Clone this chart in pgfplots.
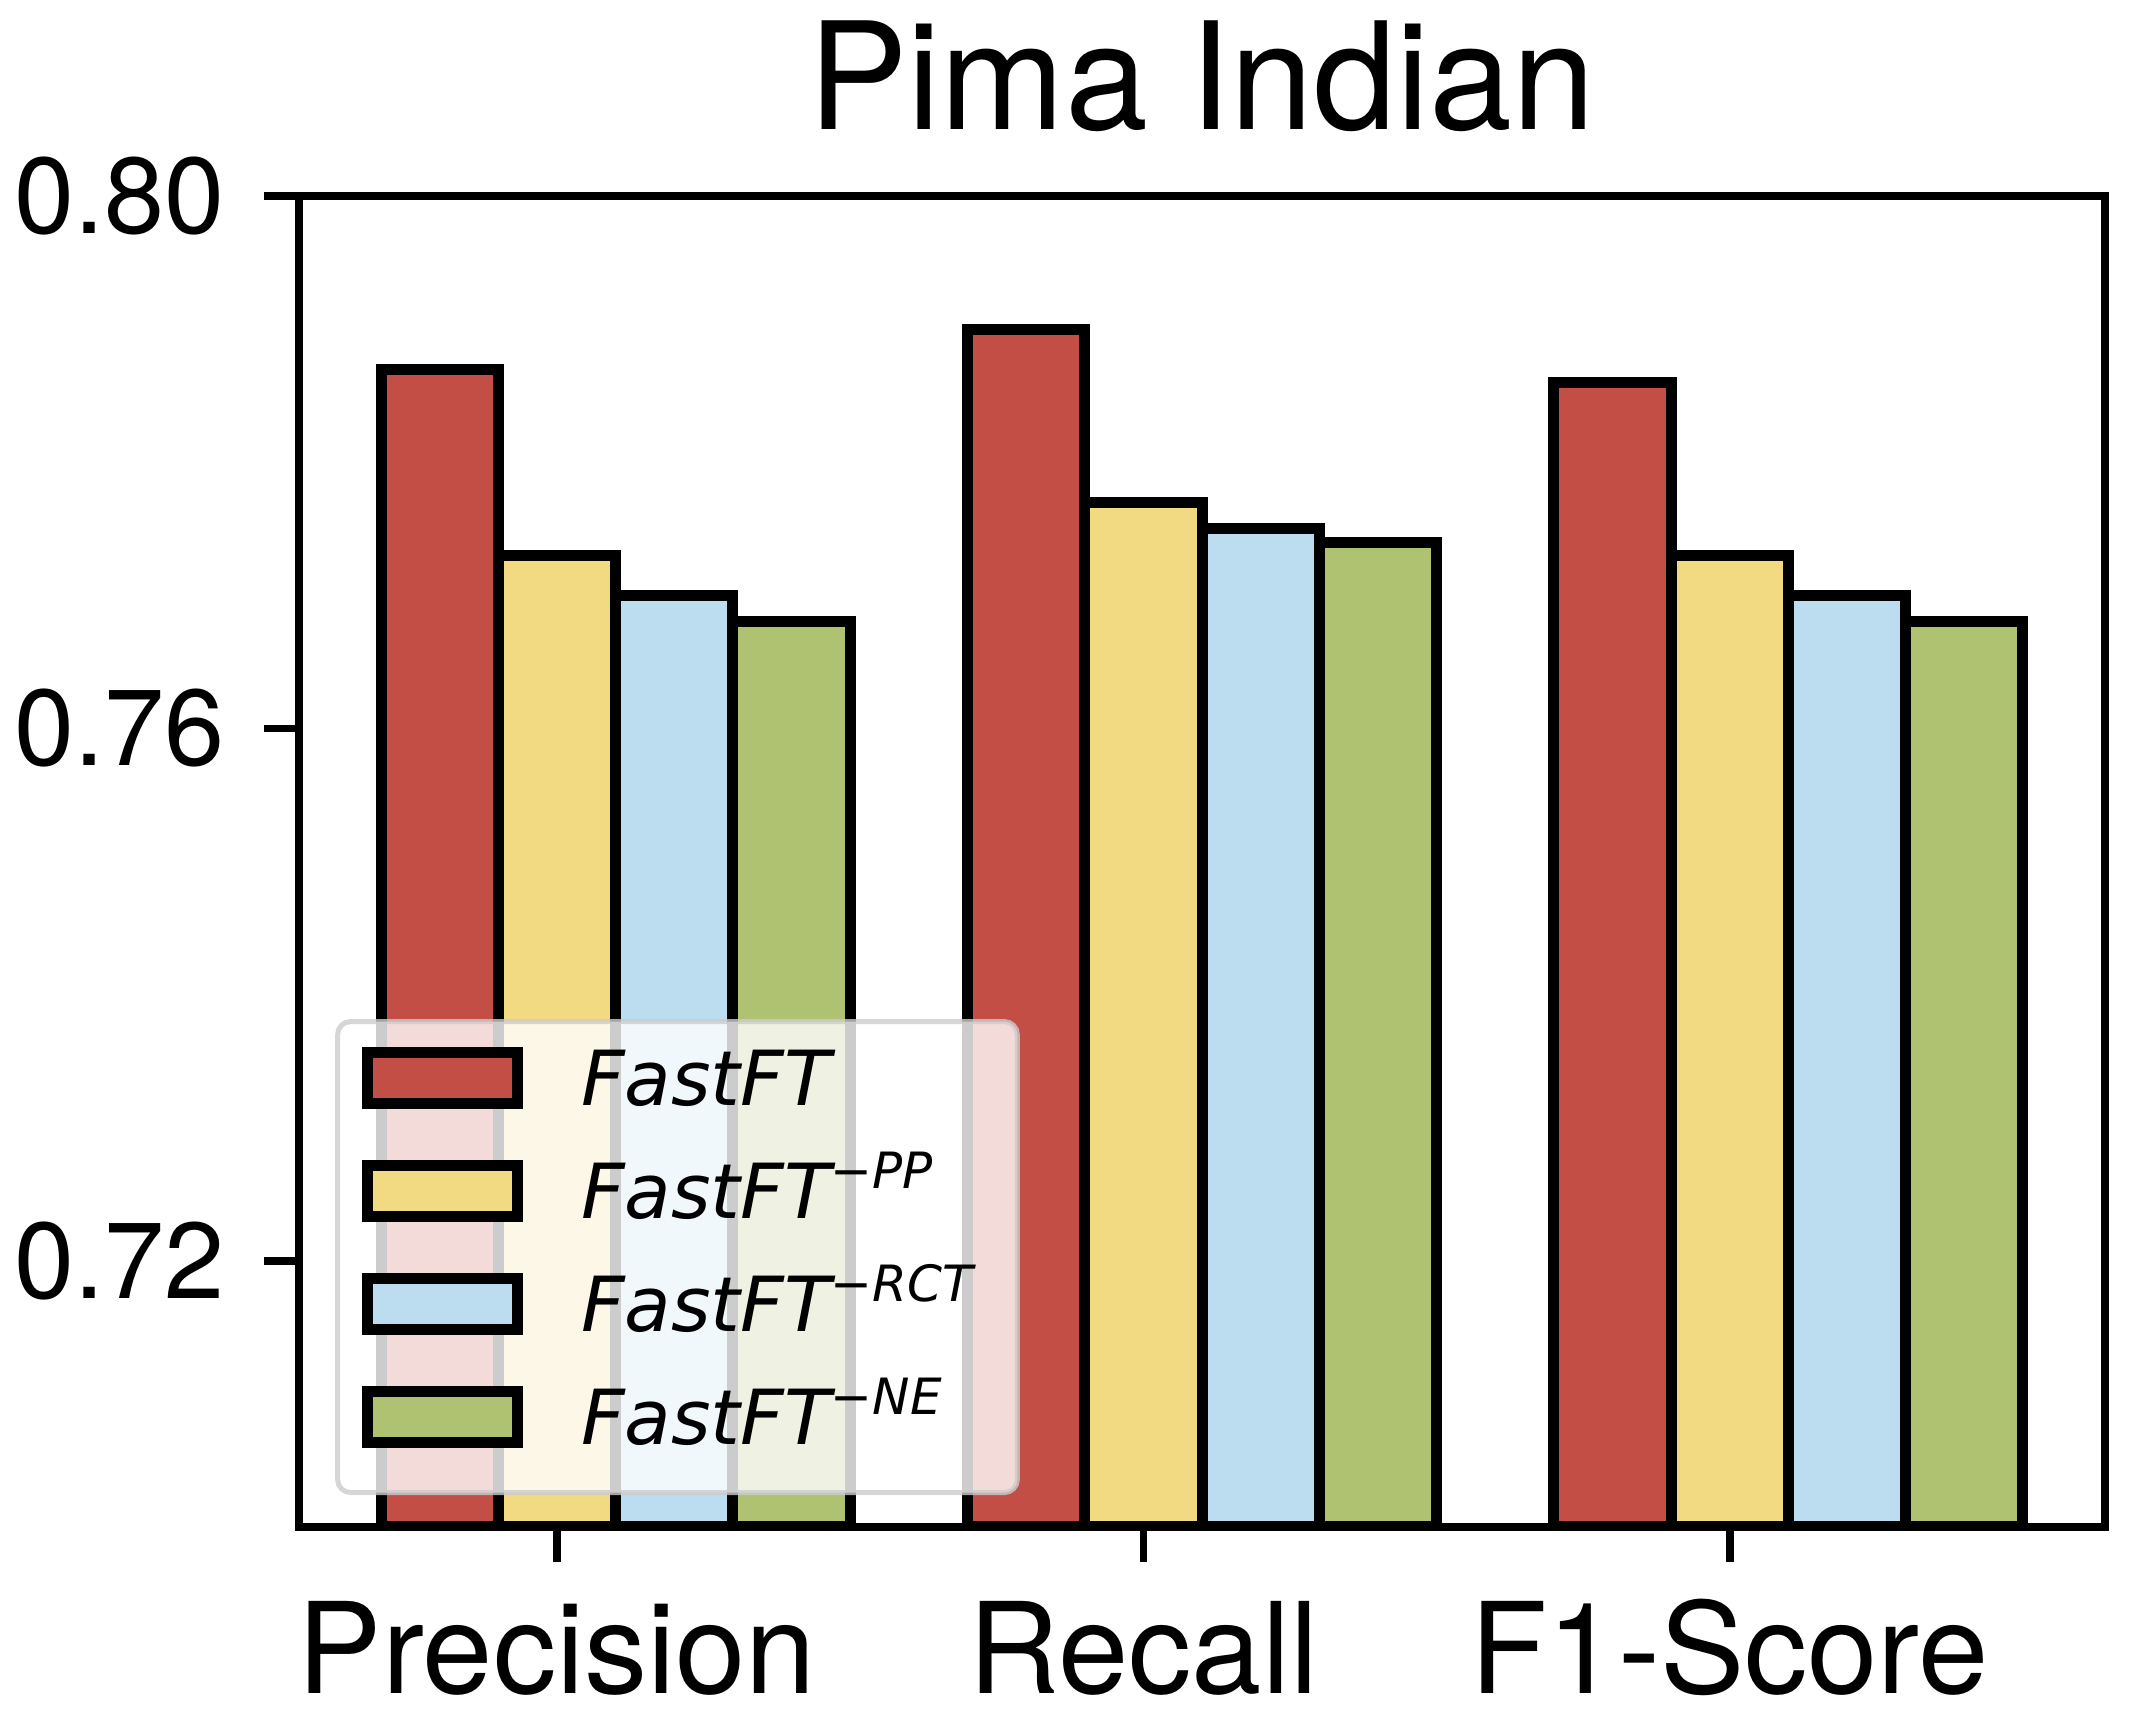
\documentclass[border=0pt]{standalone}
\usepackage{fontspec}
\setmainfont{TeX Gyre Heros}
\newfontfamily\legfont{DejaVu Sans}
\usepackage{pgfplots}
\pgfplotsset{compat=1.18}
\definecolor{cred}{RGB}{195,78,69}
\definecolor{cyellow}{RGB}{242,218,131}
\definecolor{cblue}{RGB}{188,221,239}
\definecolor{cgreen}{RGB}{175,194,114}
\newcommand{\legsup}[1]{\raisebox{7.7pt}{\fontsize{12.5}{12.5}\selectfont #1}}
\pgfplotsset{
  mybar/.style={ybar, bar width=0.2, bar shift=0pt, fill=#1, draw=black, line width=2.75pt,
    legend image code/.code={\draw[##1, sharp corners, fill opacity=1, draw opacity=1] (0pt,-4pt) rectangle (37.5pt,8.75pt);}},
}
\begin{document}
\begin{tikzpicture}
\begin{axis}[
  name=ax,
  scale only axis,
  width=451.5pt, height=332.75pt,
  xmin=-0.44, xmax=2.64,
  ymin=0.70, ymax=0.80,
  axis on top,
  axis line style={line width=1.9pt},
  tick align=outside,
  tick pos=left,
  major tick length=8.75pt,
  every tick/.style={black, line width=1.9pt},
  xtick={0,1,2},
  xticklabels={Precision,Recall,F1-Score},
  ytick={0.72,0.76,0.80},
  yticklabels={0.72,0.76,0.80},
  xticklabel style={font=\fontsize{31.6}{31.6}\selectfont, anchor=base, inner sep=0pt, yshift=-32.75pt},
  yticklabel style={font=\fontsize{27}{27}\selectfont, anchor=east, inner sep=0pt, xshift=-9.7pt},
  title={Pima Indian},
  title style={font=\fontsize{37.3}{40}\selectfont, at={(0.5,1)}, anchor=base, yshift=10.5pt, inner sep=0pt},
  legend style={at={(0.02,0.024)}, anchor=south west,
    draw=black!20, draw opacity=0.8, line width=1.25pt, rounded corners=3.25pt,
    fill=white, fill opacity=0.8, text opacity=1,
    inner xsep=6.1pt, inner ysep=6.075pt, row sep=7.4pt, column sep=14.5pt,
    font=\legfont\itshape\fontsize{19}{19}\selectfont,
    nodes={text height=15pt, text depth=5.85pt, inner sep=0pt, anchor=west}},
  legend cell align=left,
]
\addplot[mybar=cred] coordinates {(-0.2,0.787) (0.8,0.790) (1.8,0.786)};
\addplot[mybar=cyellow] coordinates {(0,0.773) (1,0.777) (2,0.773)};
\addplot[mybar=cblue] coordinates {(0.2,0.770) (1.2,0.775) (2.2,0.770)};
\addplot[mybar=cgreen] coordinates {(0.4,0.768) (1.4,0.774) (2.4,0.768)};
\legend{FastFT, FastFT\legsup{−PP}, FastFT\legsup{−RCT}\kern5pt\relax, FastFT\legsup{−NE}}
\end{axis}
\pgfresetboundingbox
\path[use as bounding box] ([xshift=-74.75pt, yshift=-48.25pt]ax.south west) rectangle ([xshift=8.25pt, yshift=49pt]ax.north east);
\end{tikzpicture}
\end{document}
